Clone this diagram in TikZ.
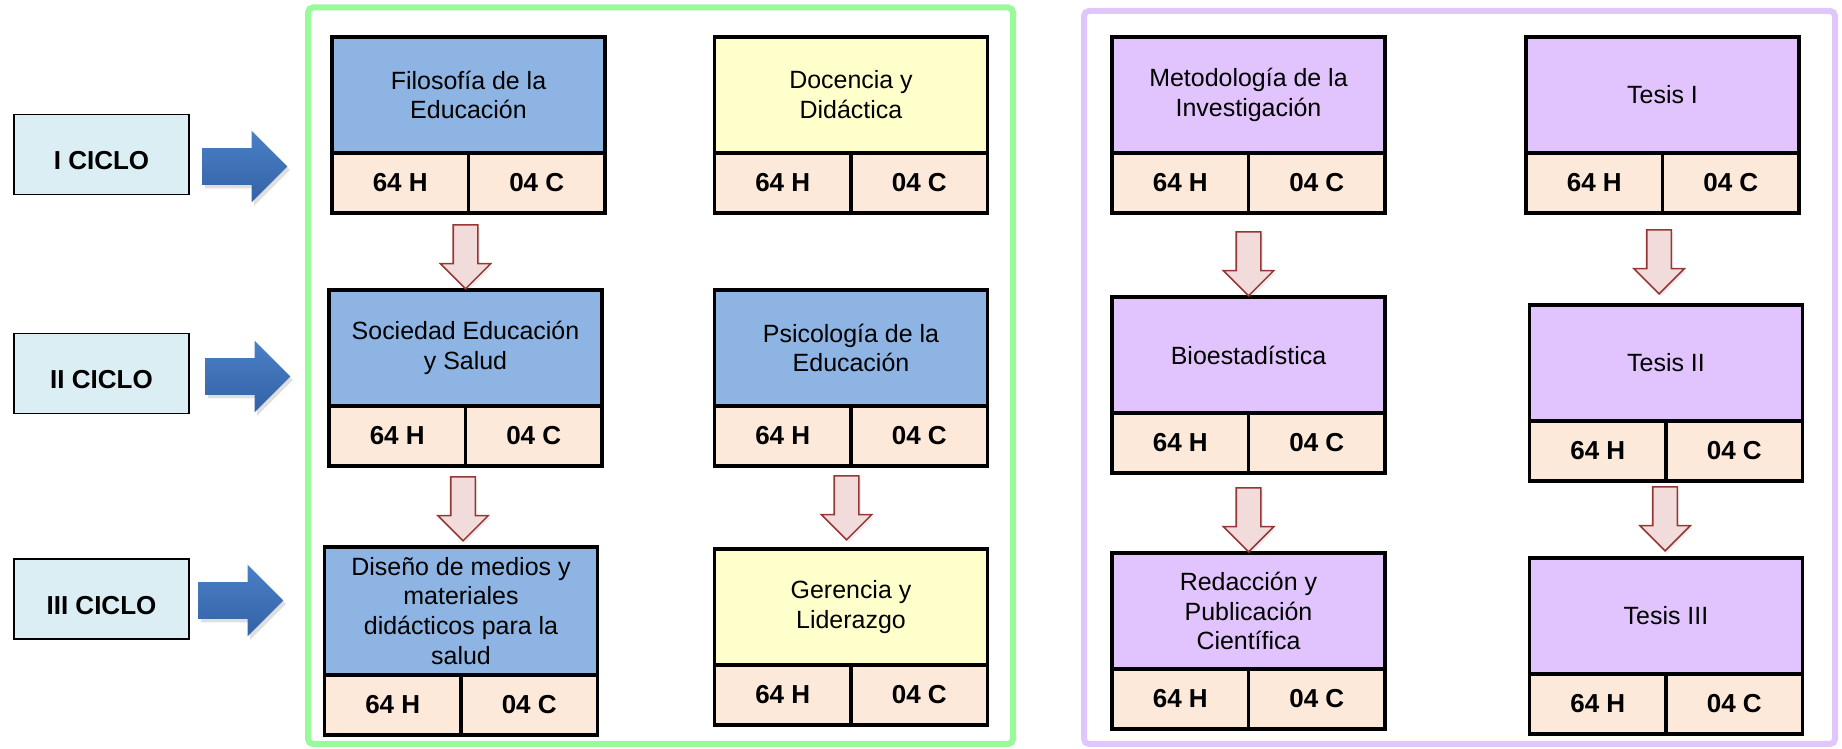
\documentclass[tikz,border=0pt]{standalone}
\usepackage{fontspec}
\setmainfont{Liberation Sans}
\usetikzlibrary{positioning,shapes.arrows,shadows}

\definecolor{colAzul}{HTML}{8DB4E2}
\definecolor{colAmarillo}{HTML}{FFFFCC}
\definecolor{colLila}{HTML}{E1C4FE}
\definecolor{colHoras}{HTML}{FCE9DA}
\definecolor{colCiclo}{HTML}{DBEEF4}
\definecolor{colVerde}{HTML}{99FA99}
\definecolor{colMarcoLila}{HTML}{DFC6FB}
\definecolor{colBorde}{HTML}{953735}
\definecolor{colFondo}{HTML}{F2DCDB}
\definecolor{colAzulA}{HTML}{4A80C6}
\definecolor{colAzulB}{HTML}{3462A6}

\begin{document}
\begin{tikzpicture}[x=0.2mm, y=0.2mm,
    curso/.style={draw, line width=2.2pt, minimum width=54.6mm, minimum height=23.2mm,
                  inner sep=0pt, outer sep=0pt, align=center, anchor=north,
                  font=\fontsize{14.2}{17}\selectfont},
    horas/.style={draw, line width=2.2pt, fill=colHoras, minimum width=27.3mm,
                  minimum height=12mm, inner sep=0pt, outer sep=0pt,
                  font=\fontsize{14.8}{17}\selectfont\bfseries},
    ciclo/.style={draw, line width=1pt, fill=colCiclo, minimum width=35mm,
                  minimum height=16mm, text height=6.1mm, text depth=0pt,
                  font=\fontsize{14.8}{17}\selectfont\bfseries},
    bajar/.style={single arrow, draw=colBorde, fill=colFondo, line width=0.9pt,
                  shape border rotate=270, minimum height=12.8mm, inner ysep=0pt,
                  inner xsep=2.3mm, single arrow head extend=2.6mm, anchor=tip,
                  drop shadow={opacity=0.15, shadow xshift=0.4mm, shadow yshift=-0.5mm}},
    avanzar/.style={single arrow, draw=none, top color=colAzulA, bottom color=colAzulB,
                  minimum height=17mm, inner xsep=0pt, inner ysep=3.6mm,
                  single arrow head extend=3.5mm, anchor=tail,
                  drop shadow={opacity=0.25, shadow xshift=0.5mm, shadow yshift=-0.7mm}}]

\useasboundingbox (0,0) rectangle (1842,749);

% marcos
\draw[colVerde, line width=1.2mm, rounded corners=1mm] (308,5) rectangle (1013,741.5);
\draw[colMarcoLila, line width=1.2mm, rounded corners=1mm] (1084,5) rectangle (1835,738);

% ciclos
\node[ciclo] (c1) at (101.5,594.5) {I CICLO};
\node[ciclo] (c2) at (101.5,375.5) {II CICLO};
\node[ciclo] (c3) at (101.5,150) {III CICLO};

\node[avanzar] (a1) at (202,582.5) {};
\node[avanzar] (a2) at (205,372.5) {};
\node[avanzar] (a3) at (198,148.5) {};

% cursos
\node[curso, fill=colAzul] (filo) at (468.5,712) {Filosofía de la\\Educación};
\node[horas, anchor=north west] (filoH) at (filo.south west) {64 H};
\node[horas, anchor=north east] (filoC) at (filo.south east) {04 C};

\node[curso, fill=colAmarillo] (doce) at (851,712) {Docencia y\\Didáctica};
\node[horas, anchor=north west] (doceH) at (doce.south west) {64 H};
\node[horas, anchor=north east] (doceC) at (doce.south east) {04 C};

\node[curso, fill=colAzul] (soci) at (465.5,459) {Sociedad Educación\\y Salud};
\node[horas, anchor=north west] (sociH) at (soci.south west) {64 H};
\node[horas, anchor=north east] (sociC) at (soci.south east) {04 C};

\node[curso, fill=colAzul] (psic) at (851,459) {Psicología de la\\Educación};
\node[horas, anchor=north west] (psicH) at (psic.south west) {64 H};
\node[horas, anchor=north east] (psicC) at (psic.south east) {04 C};

\node[curso, fill=colAzul, minimum height=25.6mm] (dise) at (461,202)
    {Diseño de medios y\\materiales\\didácticos para la\\salud};
\node[horas, anchor=north west] (diseH) at (dise.south west) {64 H};
\node[horas, anchor=north east] (diseC) at (dise.south east) {04 C};

\node[curso, fill=colAmarillo] (gere) at (851,200) {Gerencia y\\Liderazgo};
\node[horas, anchor=north west] (gereH) at (gere.south west) {64 H};
\node[horas, anchor=north east] (gereC) at (gere.south east) {04 C};

\node[curso, fill=colLila] (meto) at (1248.5,712) {Metodología de la\\Investigación};
\node[horas, anchor=north west] (metoH) at (meto.south west) {64 H};
\node[horas, anchor=north east] (metoC) at (meto.south east) {04 C};

\node[curso, fill=colLila] (tes1) at (1662.5,712) {Tesis I};
\node[horas, anchor=north west] (tes1H) at (tes1.south west) {64 H};
\node[horas, anchor=north east] (tes1C) at (tes1.south east) {04 C};

\node[curso, fill=colLila] (bioe) at (1248.5,452) {Bioestadística};
\node[horas, anchor=north west] (bioeH) at (bioe.south west) {64 H};
\node[horas, anchor=north east] (bioeC) at (bioe.south east) {04 C};

\node[curso, fill=colLila] (tes2) at (1666,444) {Tesis II};
\node[horas, anchor=north west] (tes2H) at (tes2.south west) {64 H};
\node[horas, anchor=north east] (tes2C) at (tes2.south east) {04 C};

\node[curso, fill=colLila] (reda) at (1248.5,196) {Redacción y\\Publicación\\Científica};
\node[horas, anchor=north west] (redaH) at (reda.south west) {64 H};
\node[horas, anchor=north east] (redaC) at (reda.south east) {04 C};

\node[curso, fill=colLila] (tes3) at (1666,191) {Tesis III};
\node[horas, anchor=north west] (tes3H) at (tes3.south west) {64 H};
\node[horas, anchor=north east] (tes3C) at (tes3.south east) {04 C};

% flechas entre cursos
\node[bajar] (f1) at (soci.north) {};
\node[bajar, xshift=0.4mm, yshift=1mm] (f2) at (dise.north) {};
\node[bajar, xshift=-0.9mm, yshift=1.6mm] (f3) at (gere.north) {};
\node[bajar] (f4) at (bioe.north) {};
\node[bajar, xshift=-1.4mm, yshift=2mm] (f5) at (tes2.north) {};
\node[bajar] (f6) at (reda.north) {};
\node[bajar, xshift=-0.2mm, yshift=1.2mm] (f7) at (tes3.north) {};

\end{tikzpicture}
\end{document}
